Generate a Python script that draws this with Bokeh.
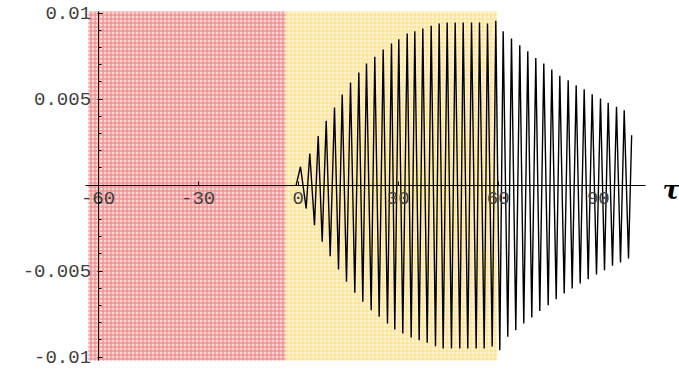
import numpy as np
from bokeh.plotting import figure
from bokeh.models import Range1d, FixedTicker, CustomJSTickFormatter, Label
from bokeh.embed import file_html
from bokeh.resources import INLINE

# Extremes of the oscillating response: maxima and minima (tau, amplitude)
peak_tau = [0.70, 3.49, 6.01, 8.41, 10.90, 13.21, 15.70, 18.19, 20.49, 22.98,
            25.50, 27.99, 30.18, 32.70, 34.98, 37.38, 39.90, 42.29, 44.69, 47.09,
            49.49, 51.99, 54.38, 56.78, 59.27, 61.48, 63.97, 66.46, 68.86, 71.26,
            73.66, 76.06, 78.46, 80.97, 83.37, 85.77, 88.17, 90.66, 92.97, 95.46,
            97.77, 100.0]
peak_val = [0.00107, 0.00184, 0.00285, 0.00374, 0.00452, 0.00527, 0.00597, 0.00655,
            0.00707, 0.00746, 0.00789, 0.00824, 0.00849, 0.00882, 0.00895, 0.00911,
            0.00927, 0.00940, 0.00946, 0.00946, 0.00946, 0.00946, 0.00946, 0.00940,
            0.00956, 0.00895, 0.00853, 0.00814, 0.00779, 0.00740, 0.00707, 0.00672,
            0.00636, 0.00610, 0.00581, 0.00558, 0.00529, 0.00504, 0.00479, 0.00456,
            0.00436, 0.00290]
trough_tau = [2.41, 4.90, 7.21, 9.61, 12.10, 14.50, 16.99, 19.39, 21.90, 24.30,
              26.79, 28.98, 31.38, 33.90, 36.30, 38.70, 41.19, 43.49, 45.98, 48.47,
              50.87, 53.39, 55.79, 58.19, 60.46, 62.86, 65.26, 67.66, 70.06, 72.46,
              74.98, 77.38, 79.78, 82.17, 84.57, 86.97, 89.46, 91.86, 94.26, 96.66,
              99.06]
trough_val = [-0.00136, -0.00233, -0.00329, -0.00413, -0.00490, -0.00562, -0.00626,
              -0.00678, -0.00727, -0.00765, -0.00804, -0.00839, -0.00863, -0.00886,
              -0.00902, -0.00917, -0.00936, -0.00950, -0.00950, -0.00950, -0.00950,
              -0.00950, -0.00950, -0.00938, -0.00960, -0.00882, -0.00843, -0.00804,
              -0.00770, -0.00731, -0.00698, -0.00663, -0.00630, -0.00601, -0.00572,
              -0.00547, -0.00520, -0.00495, -0.00469, -0.00450, -0.00427]
onset_tau = -0.6   # response is zero before this point

# Shaded intervals of tau
band_left = [-62.9, -3.7]
band_right = [-3.7, 59.7]
band_bottom = -0.0102
band_top = 0.0101
band_fill = ["#fbd6d6", "#fff5d4"]
band_hatch = ["#ee7c7c", "#fbdf85"]

x_ticks = [-60, -30, 0, 30, 60, 90]
x_tick_labels = ["-60", "-30", "0", "30", "60", "90"]
y_ticks = [-0.01, -0.005, 0.005, 0.01]
y_tick_labels = ["-0.01", "-0.005", "0.005", "0.01"]
y_minor = [round(v, 4) for v in np.arange(-0.01, 0.0101, 0.001)]

# Assemble the curve: onset, then alternating maxima and minima
xs, ys = [onset_tau], [0.0]
for i in range(len(peak_tau)):
    xs.append(peak_tau[i]); ys.append(peak_val[i])
    if i < len(trough_tau):
        xs.append(trough_tau[i]); ys.append(trough_val[i])

p = figure(width=679, height=369,
           x_range=Range1d(-89.25, 114.35), y_range=Range1d(-0.010719, 0.010737),
           output_backend="svg", toolbar_location=None, min_border=0,
           outline_line_color=None, background_fill_color="white",
           border_fill_color="white")
p.grid.visible = False

p.quad(left=band_left, right=band_right, bottom=band_bottom, top=band_top,
       fill_color=band_fill, line_color=None,
       hatch_pattern="+", hatch_color=band_hatch, hatch_scale=4, hatch_weight=1)
p.line(xs, ys, line_color="black", line_width=1.4)

label_code = """
const i = tvals.findIndex(t => Math.abs(t - tick) < 1e-9);
return i >= 0 ? tlabels[i] : '';
"""
mono = "Liberation Mono"

xa = p.xaxis[0]
xa.fixed_location = 0
xa.bounds = (-63.7, 104.2)
xa.ticker = FixedTicker(ticks=x_ticks, minor_ticks=[])
xa.formatter = CustomJSTickFormatter(args=dict(tvals=x_ticks, tlabels=x_tick_labels), code=label_code)
xa.axis_line_color = "black"
xa.axis_line_width = 1
xa.major_tick_in = 4
xa.major_tick_out = 0
xa.major_tick_line_color = "black"
xa.major_label_standoff = 7
xa.major_label_text_font = mono
xa.major_label_text_font_size = "19px"
xa.major_label_text_color = "#404040"

ya = p.yaxis[0]
ya.fixed_location = -60
ya.bounds = (band_bottom, band_top)
ya.ticker = FixedTicker(ticks=y_ticks, minor_ticks=y_minor)
ya.formatter = CustomJSTickFormatter(args=dict(tvals=y_ticks, tlabels=y_tick_labels), code=label_code)
ya.axis_line_color = "black"
ya.axis_line_width = 1
ya.major_tick_in = 4
ya.major_tick_out = 1
ya.minor_tick_in = 3
ya.minor_tick_out = 0
ya.major_tick_line_color = "black"
ya.minor_tick_line_color = "black"
ya.major_label_standoff = 6
ya.major_label_text_font = mono
ya.major_label_text_font_size = "19px"
ya.major_label_text_color = "#404040"

p.add_layout(Label(x=111.9, y=-0.000294, text="τ", text_font="DejaVu Serif",
                   text_font_style="bold italic", text_font_size="26px",
                   text_align="center", text_baseline="alphabetic",
                   text_color="black"))

open("out.html", "w").write(file_html(p, INLINE))
